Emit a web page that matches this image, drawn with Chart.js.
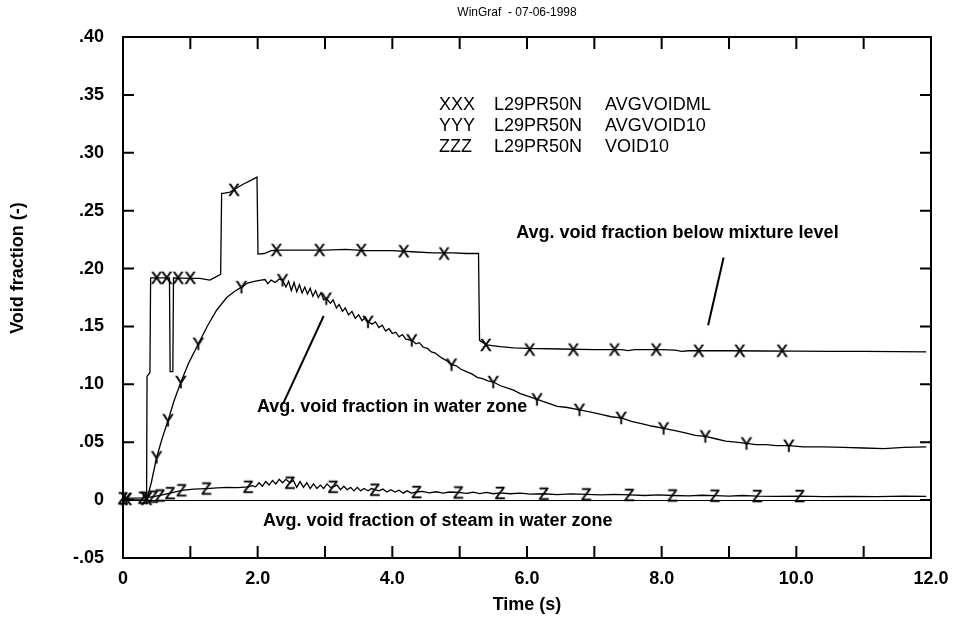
<!DOCTYPE html>
<html>
<head>
<meta charset="utf-8">
<script src="https://cdn.jsdelivr.net/npm/chart.js@4.4.1/dist/chart.umd.min.js"></script>
<style>
  html, body { margin: 0; padding: 0; background: #fff; }
  canvas { display: block; }
</style>
</head>
<body>
<canvas id="chart" width="953" height="622"></canvas>
<script>
// axis ticks and labels
const xTicks = [0, 2, 4, 6, 8, 10, 12];
const xTickLabels = ['0', '2.0', '4.0', '6.0', '8.0', '10.0', '12.0'];
const xTickMarks = [0, 1, 2, 3, 4, 5, 6, 7, 8, 9, 10, 11, 12];
const yTicks = [-0.05, 0, 0.05, 0.10, 0.15, 0.20, 0.25, 0.30, 0.35, 0.40];
const yTickLabels = ['-.05', '0', '.05', '.10', '.15', '.20', '.25', '.30', '.35', '.40'];

// legend rows (marker, case, variable)
const legendRows = [
  ['XXX', 'L29PR50N', 'AVGVOIDML'],
  ['YYY', 'L29PR50N', 'AVGVOID10'],
  ['ZZZ', 'L29PR50N', 'VOID10']
];

// AVGVOIDML : avg. void fraction below mixture level  [time, void]
const mlCurve = [
  [0, 0], [0.35, 0], [0.357, 0.107], [0.40, 0.110], [0.41, 0.192], [0.69, 0.192],
  [0.70, 0.111], [0.74, 0.111], [0.75, 0.192], [1.0, 0.1915], [1.14, 0.1915], [1.29, 0.190],
  [1.45, 0.195], [1.465, 0.265], [1.49, 0.265], [1.59, 0.266], [1.70, 0.270], [1.79, 0.273],
  [1.89, 0.276], [1.99, 0.279], [2.005, 0.2125], [2.1, 0.213], [2.2, 0.2155], [2.3, 0.216],
  [2.6, 0.216], [3.0, 0.216], [3.3, 0.2165], [3.6, 0.2155], [4.0, 0.2155], [4.3, 0.2145],
  [4.6, 0.2135], [4.9, 0.2135], [5.1, 0.213], [5.28, 0.213], [5.295, 0.138], [5.4, 0.134],
  [5.6, 0.1325], [5.8, 0.1315], [6.0, 0.131], [6.5, 0.1305], [7.0, 0.130], [7.4, 0.130],
  [7.5, 0.1292], [7.6, 0.130], [8.0, 0.130], [8.2, 0.1295], [8.3, 0.1285], [8.4, 0.129],
  [8.6, 0.1292], [9.0, 0.129], [9.5, 0.1288], [10.0, 0.1287], [10.5, 0.1285], [11.0, 0.1285],
  [11.5, 0.1283], [11.93, 0.128]
];
const mlMarks = [
  [0.05, 0.001], [0.35, 0.001], [0.50, 0.192], [0.65, 0.192], [0.82, 0.192], [1.0, 0.192],
  [1.65, 0.268], [2.28, 0.216], [2.92, 0.216], [3.54, 0.216], [4.17, 0.215], [4.77, 0.213],
  [5.39, 0.134], [6.04, 0.130], [6.69, 0.130], [7.30, 0.130], [7.92, 0.130], [8.55, 0.129],
  [9.16, 0.129], [9.79, 0.129]
];

// AVGVOID10 : avg. void fraction in water zone
const wzCurve = [
  [0, 0], [0.35, 0], [0.36, 0.002], [0.42, 0.015], [0.50, 0.037], [0.58, 0.053], [0.67, 0.069],
  [0.76, 0.086], [0.86, 0.102], [0.98, 0.119], [1.12, 0.135], [1.25, 0.150], [1.39, 0.164],
  [1.54, 0.175], [1.65, 0.180], [1.76, 0.184], [1.85, 0.1875], [1.95, 0.189], [2.05, 0.190],
  [2.11, 0.1905], [2.15, 0.187], [2.20, 0.190], [2.26, 0.188], [2.32, 0.191], [2.37, 0.190],
  [2.42, 0.184], [2.46, 0.189], [2.50, 0.181], [2.54, 0.188], [2.58, 0.180], [2.62, 0.186],
  [2.66, 0.179], [2.70, 0.184], [2.74, 0.178], [2.78, 0.183], [2.82, 0.176], [2.86, 0.181],
  [2.90, 0.175], [2.94, 0.179], [2.98, 0.173], [3.02, 0.174], [3.08, 0.170], [3.12, 0.173],
  [3.17, 0.166], [3.21, 0.169], [3.26, 0.163], [3.30, 0.166], [3.35, 0.160], [3.40, 0.163],
  [3.45, 0.157], [3.50, 0.160], [3.55, 0.155], [3.60, 0.158], [3.64, 0.154], [3.70, 0.152],
  [3.75, 0.154], [3.80, 0.149], [3.85, 0.151], [3.90, 0.146], [3.95, 0.148], [4.00, 0.144],
  [4.05, 0.145], [4.10, 0.141], [4.15, 0.143], [4.20, 0.139], [4.29, 0.138], [4.35, 0.135],
  [4.40, 0.136], [4.46, 0.132], [4.52, 0.131], [4.58, 0.128], [4.64, 0.127], [4.70, 0.124],
  [4.76, 0.122], [4.82, 0.120], [4.88, 0.117], [4.95, 0.116], [5.02, 0.113], [5.10, 0.111],
  [5.18, 0.109], [5.26, 0.106], [5.34, 0.105], [5.42, 0.103], [5.50, 0.102], [5.60, 0.099],
  [5.70, 0.097], [5.80, 0.095], [5.90, 0.092], [6.00, 0.090], [6.15, 0.087], [6.30, 0.084],
  [6.45, 0.081], [6.60, 0.080], [6.78, 0.078], [6.95, 0.076], [7.10, 0.074], [7.25, 0.072],
  [7.40, 0.071], [7.55, 0.068], [7.70, 0.066], [7.85, 0.064], [8.03, 0.062], [8.20, 0.060],
  [8.35, 0.058], [8.50, 0.056], [8.65, 0.055], [8.80, 0.053], [8.95, 0.051], [9.10, 0.050],
  [9.26, 0.049], [9.40, 0.048], [9.55, 0.048], [9.70, 0.047], [9.89, 0.047], [10.1, 0.046],
  [10.4, 0.046], [10.7, 0.0455], [11.0, 0.045], [11.3, 0.0445], [11.6, 0.0455], [11.93, 0.046]
];
const wzMarks = [
  [0.05, 0.001], [0.35, 0.002], [0.50, 0.037], [0.67, 0.069], [0.86, 0.102], [1.12, 0.135],
  [1.76, 0.184], [2.37, 0.190], [3.02, 0.174], [3.64, 0.154], [4.29, 0.138], [4.88, 0.117],
  [5.50, 0.102], [6.15, 0.087], [6.78, 0.078], [7.40, 0.071], [8.03, 0.062], [8.65, 0.055],
  [9.26, 0.049], [9.89, 0.047]
];

// VOID10 : avg. void fraction of steam in water zone
const stCurve = [
  [0, 0.0015], [0.30, 0.002], [0.45, 0.003], [0.55, 0.004], [0.70, 0.006], [0.87, 0.0085],
  [1.05, 0.0095], [1.24, 0.010], [1.40, 0.0105], [1.55, 0.011], [1.70, 0.0108], [1.86, 0.0115],
  [1.92, 0.0125], [1.97, 0.0115], [2.02, 0.015], [2.07, 0.012], [2.12, 0.016], [2.17, 0.013],
  [2.22, 0.017], [2.27, 0.014], [2.32, 0.018], [2.37, 0.015], [2.42, 0.018], [2.48, 0.015],
  [2.53, 0.017], [2.58, 0.011], [2.63, 0.016], [2.68, 0.011], [2.73, 0.015], [2.78, 0.010],
  [2.83, 0.014], [2.88, 0.010], [2.93, 0.013], [2.98, 0.010], [3.03, 0.014], [3.08, 0.011],
  [3.12, 0.0115], [3.18, 0.013], [3.23, 0.009], [3.28, 0.012], [3.33, 0.009], [3.38, 0.011],
  [3.43, 0.008], [3.48, 0.011], [3.53, 0.008], [3.58, 0.010], [3.64, 0.008], [3.69, 0.010],
  [3.74, 0.009], [3.80, 0.008], [3.86, 0.0095], [3.92, 0.007], [3.98, 0.009], [4.04, 0.007],
  [4.10, 0.0085], [4.16, 0.006], [4.22, 0.008], [4.28, 0.006], [4.36, 0.007], [4.45, 0.0075],
  [4.55, 0.0062], [4.65, 0.0072], [4.75, 0.006], [4.85, 0.007], [4.98, 0.0066], [5.1, 0.0058],
  [5.2, 0.0068], [5.3, 0.0056], [5.4, 0.0066], [5.5, 0.0055], [5.6, 0.0062], [5.75, 0.0055],
  [5.9, 0.006], [6.05, 0.0052], [6.25, 0.0055], [6.45, 0.0048], [6.65, 0.0053], [6.88, 0.005],
  [7.1, 0.0045], [7.3, 0.005], [7.52, 0.0045], [7.75, 0.004], [7.95, 0.0045], [8.16, 0.004],
  [8.4, 0.0037], [8.6, 0.0042], [8.79, 0.0038], [9.0, 0.0035], [9.2, 0.004], [9.42, 0.0035],
  [9.7, 0.0033], [10.05, 0.0035], [10.4, 0.003], [10.8, 0.0033], [11.2, 0.003], [11.6, 0.0035],
  [11.93, 0.0033]
];
const stMarks = [
  [0.0, 0.0015], [0.30, 0.002], [0.45, 0.003], [0.55, 0.004], [0.70, 0.006], [0.87, 0.0085],
  [1.24, 0.010], [1.86, 0.0115], [2.48, 0.015], [3.12, 0.0115], [3.74, 0.009], [4.36, 0.007],
  [4.98, 0.0066], [5.6, 0.0062], [6.25, 0.0055], [6.88, 0.005], [7.52, 0.0045], [8.16, 0.004],
  [8.79, 0.0038], [9.42, 0.0035], [10.05, 0.0035]
];

// leader lines from the labels to the curves
const leaderMixture = [[8.92, 0.2096], [8.69, 0.151]];
const leaderWater = [[2.98, 0.159], [2.38, 0.0835]];

const FONT = '"Liberation Sans", Arial, sans-serif';

// labels placed in data units
const notes = [
  { text: 'Avg. void fraction below mixture level', t: 5.84, v: 0.2306 },
  { text: 'Avg. void fraction in water zone', t: 1.99, v: 0.0806 },
  { text: 'Avg. void fraction of steam in water zone', t: 2.08, v: -0.0179 }
];

const pts = (arr) => arr.map(([t, v]) => ({ x: t, y: v }));

// letter markers X / Y / Z
function glyph(ch) {
  const c = document.createElement('canvas');
  c.width = 20;
  c.height = 20;
  const g = c.getContext('2d');
  g.font = '17px ' + FONT;
  g.fillStyle = '#000';
  g.strokeStyle = '#000';
  g.lineWidth = 0.5;
  g.textAlign = 'center';
  g.textBaseline = 'alphabetic';
  g.fillText(ch, 10, 16);
  g.strokeText(ch, 10, 16);
  return c;
}

const lineDs = (arr, w) => ({
  data: pts(arr),
  borderColor: '#000',
  borderWidth: w,
  pointRadius: 0,
  tension: 0,
  fill: false
});
const markDs = (arr, ch) => ({
  data: pts(arr),
  showLine: false,
  pointStyle: glyph(ch),
  pointRadius: 8,
  borderWidth: 0,
  clip: false
});

const framePlugin = {
  id: 'frame',
  afterDraw(chart) {
    const { ctx, chartArea: a, scales: { x, y } } = chart;
    ctx.save();
    ctx.strokeStyle = '#000';
    ctx.fillStyle = '#000';
    ctx.lineWidth = 2;
    ctx.strokeRect(a.left, a.top, a.right - a.left, a.bottom - a.top);

    // inner tick marks on all four sides
    ctx.beginPath();
    xTickMarks.forEach(t => {
      const px = x.getPixelForValue(t);
      ctx.moveTo(px, a.bottom); ctx.lineTo(px, a.bottom - 12);
      ctx.moveTo(px, a.top); ctx.lineTo(px, a.top + 12);
    });
    yTicks.forEach(v => {
      const py = y.getPixelForValue(v);
      ctx.moveTo(a.left, py); ctx.lineTo(a.left + 11, py);
      ctx.moveTo(a.right, py); ctx.lineTo(a.right - 11, py);
    });
    ctx.stroke();

    // header
    ctx.font = '12px ' + FONT;
    ctx.textAlign = 'center';
    ctx.textBaseline = 'middle';
    ctx.fillText('WinGraf  - 07-06-1998', 517, 13);

    // y title
    ctx.save();
    ctx.translate(18, 268);
    ctx.rotate(-Math.PI / 2);
    ctx.font = 'bold 18px ' + FONT;
    ctx.fillText('Void fraction (-)', 0, 0);
    ctx.restore();

    // legend block
    ctx.font = '18px ' + FONT;
    ctx.textAlign = 'left';
    const cols = [439, 494, 605];
    legendRows.forEach((row, i) => {
      row.forEach((txt, j) => ctx.fillText(txt, cols[j], 105 + i * 21.2));
    });

    // curve labels
    ctx.font = 'bold 18px ' + FONT;
    notes.forEach(n => {
      ctx.fillText(n.text, x.getPixelForValue(n.t), y.getPixelForValue(n.v));
    });
    ctx.restore();
  }
};

Chart.defaults.font.family = FONT;
Chart.defaults.color = '#000';

new Chart(document.getElementById('chart'), {
  type: 'line',
  data: {
    datasets: [
      lineDs(mlCurve, 1.3),
      lineDs(wzCurve, 1.3),
      lineDs(stCurve, 1.3),
      lineDs(leaderMixture, 2),
      lineDs(leaderWater, 2),
      markDs(mlMarks, 'X'),
      markDs(wzMarks, 'Y'),
      markDs(stMarks, 'Z')
    ]
  },
  options: {
    responsive: false,
    animation: false,
    events: [],
    layout: { padding: { left: 0, right: 22, top: 37, bottom: 0 } },
    plugins: {
      legend: { display: false },
      tooltip: { enabled: false }
    },
    scales: {
      x: {
        type: 'linear',
        min: 0,
        max: 12,
        afterBuildTicks: s => { s.ticks = xTicks.map(v => ({ value: v })); },
        afterFit: s => {
          s.height = 64;
          s.paddingLeft = 0;
          s.paddingRight = 0;
        },
        ticks: {
          callback: (v, i) => xTickLabels[i],
          font: { size: 18, weight: 'bold' },
          padding: 10,
          maxRotation: 0,
          autoSkip: false
        },
        grid: { display: false, drawTicks: false },
        border: { display: false },
        title: {
          display: true,
          text: 'Time (s)',
          font: { size: 18, weight: 'bold' },
          padding: { top: 0, bottom: 6 }
        }
      },
      y: {
        type: 'linear',
        min: -0.05,
        max: 0.40,
        afterBuildTicks: s => { s.ticks = yTicks.map(v => ({ value: v })); },
        afterFit: s => { s.width = 123; },
        ticks: {
          callback: (v, i) => yTickLabels[i],
          font: { size: 18, weight: 'bold' },
          padding: 19,
          autoSkip: false
        },
        grid: {
          drawTicks: false,
          color: c => (c.tick && c.tick.value === 0 ? '#000' : 'rgba(0,0,0,0)'),
          lineWidth: 1
        },
        border: { display: false }
      }
    }
  },
  plugins: [framePlugin]
});
</script>
</body>
</html>
